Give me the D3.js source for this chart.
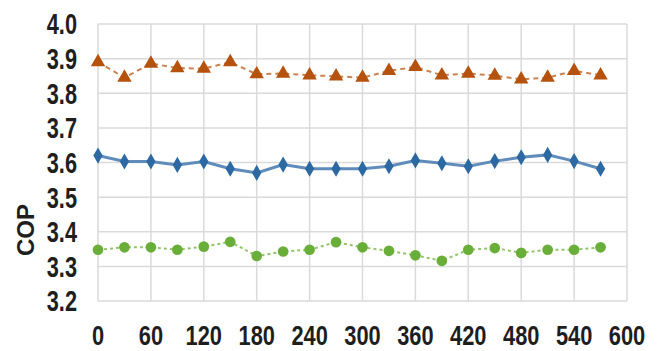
<!DOCTYPE html>
<html>
<head>
<meta charset="utf-8">
<script src="https://cdn.jsdelivr.net/npm/d3@7"></script>
<style>
  body { margin: 0; background: #fff; }
  text { font-family: Arial, "Liberation Sans", sans-serif; font-weight: bold; fill: #1e1e1e; }
</style>
</head>
<body>
<svg id="chart" width="664" height="351"></svg>
<script>
// time values (every 30 units)
const times = d3.range(20).map(i => i * 30);
const xTicks = [0, 60, 120, 180, 240, 300, 360, 420, 480, 540, 600];
const yTicks = [3.2, 3.3, 3.4, 3.5, 3.6, 3.7, 3.8, 3.9, 4.0];

const orangeVals = [3.89, 3.845, 3.886, 3.873, 3.871, 3.89, 3.855, 3.857, 3.852, 3.849,
                    3.845, 3.865, 3.876, 3.852, 3.857, 3.851, 3.840, 3.845, 3.865, 3.852];
const blueVals = [3.62, 3.603, 3.603, 3.593, 3.603, 3.582, 3.570, 3.594, 3.582, 3.582,
                  3.582, 3.589, 3.606, 3.598, 3.589, 3.604, 3.615, 3.622, 3.604, 3.582];
const greenVals = [3.348, 3.355, 3.355, 3.348, 3.357, 3.371, 3.330, 3.343, 3.348, 3.370,
                   3.355, 3.345, 3.332, 3.316, 3.348, 3.353, 3.339, 3.348, 3.348, 3.355];

const margin = {top: 24, right: 37, bottom: 50, left: 98};
const width = 664 - margin.left - margin.right;
const height = 351 - margin.top - margin.bottom;

const svg = d3.select("#chart")
  .append("g")
  .attr("transform", `translate(${margin.left},${margin.top})`);

const x = d3.scaleLinear().domain([0, 600]).range([0, width]);
const y = d3.scaleLinear().domain([3.2, 4.0]).range([height, 0]);

// gridlines
svg.append("g")
  .selectAll("line.h")
  .data(yTicks)
  .enter().append("line")
  .attr("x1", 0).attr("x2", width)
  .attr("y1", d => y(d)).attr("y2", d => y(d))
  .attr("stroke", "#dadada").attr("stroke-width", 1.5);

svg.append("g")
  .selectAll("line.v")
  .data(xTicks)
  .enter().append("line")
  .attr("y1", 0).attr("y2", height)
  .attr("x1", d => x(d)).attr("x2", d => x(d))
  .attr("stroke", "#dadada").attr("stroke-width", 1.5);

// axes labels (condensed look)
svg.append("g")
  .selectAll("text")
  .data(yTicks)
  .enter().append("text")
  .attr("transform", d => `translate(-21,${y(d)}) scale(0.75,1)`)
  .attr("text-anchor", "end")
  .attr("dy", "0.36em")
  .style("font-size", "29px")
  .text(d => d.toFixed(1));

svg.append("g")
  .selectAll("text")
  .data(xTicks)
  .enter().append("text")
  .attr("transform", d => `translate(${x(d)},${height + 44}) scale(0.78,1)`)
  .attr("text-anchor", "middle")
  .style("font-size", "28px")
  .text(d => d);

svg.append("text")
  .attr("transform", `translate(${25 - margin.left},${230 - margin.top}) rotate(-90)`)
  .attr("text-anchor", "middle")
  .attr("dy", "0.36em")
  .style("font-size", "24px")
  .text("COP");

// series
const series = [
  {vals: orangeVals, line: "#c98250", fill: "#b5520d", dash: "5,4", symbol: d3.symbolTriangle, size: 90, lw: 2},
  {vals: blueVals, line: "#5f8cbb", fill: "#2c68a2", dash: null, symbol: d3.symbolDiamond, size: 75, lw: 3},
  {vals: greenVals, line: "#93c46a", fill: "#6aae3a", dash: "3,3", symbol: d3.symbolCircle, size: 90, lw: 2}
];

const line = d3.line().x((d, i) => x(times[i])).y(d => y(d));

series.forEach(s => {
  svg.append("path")
    .datum(s.vals)
    .attr("d", line)
    .attr("fill", "none")
    .attr("stroke", s.line)
    .attr("stroke-width", s.lw)
    .attr("stroke-dasharray", s.dash);

  svg.append("g")
    .selectAll("path")
    .data(s.vals)
    .enter().append("path")
    .attr("d", d3.symbol().type(s.symbol).size(s.size))
    .attr("transform", (d, i) => `translate(${x(times[i])},${y(d)})`)
    .attr("fill", s.fill);
});
</script>
</body>
</html>
